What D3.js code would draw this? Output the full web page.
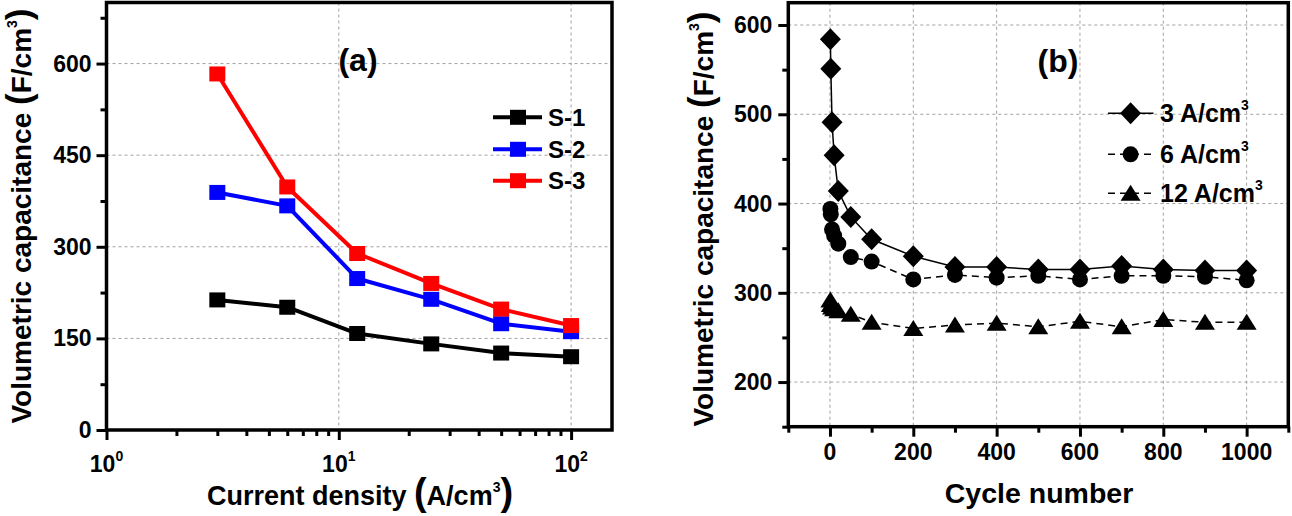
<!DOCTYPE html>
<html><head><meta charset="utf-8">
<script src="https://cdn.jsdelivr.net/npm/d3@7"></script>
<style>
body{margin:0;background:#fff}
svg{display:block}
text{font-family:"Liberation Sans",Arial,sans-serif;font-weight:bold;fill:#000}
</style>
</head><body><svg id="c" width="1292" height="516"></svg>
<script>
// ---------- Panel (a) data ----------
const currentDensity = [3, 6, 12, 25, 50, 100];
const s1 = [213, 201, 158, 141, 126, 120];
const s2 = [389, 367, 248, 214, 174, 161];
const s3 = [583, 398, 289, 240, 198, 171];
const seriesNamesA = ["S-1", "S-2", "S-3"];
const seriesColorsA = ["#000000", "#0000ff", "#ff0000"];
const yTicksA = [0, 150, 300, 450, 600];
const yMinorA = [75, 225, 375, 525, 675];
const xTicksA = [1, 10, 100];
const xTickExpA = ["0", "1", "2"];

// ---------- Panel (b) data ----------
const cycles = [1, 2, 5, 10, 20, 50, 100, 200, 300, 400, 500, 600, 700, 800, 900, 1000];
const cap3 = [584, 551, 491, 454, 414, 385, 360, 341, 329, 329, 326, 326, 330, 326, 325, 325];
const cap6 = [394, 388, 371, 364, 355, 340, 335, 315, 320, 317, 319, 315, 319, 319, 318, 314];
const cap12 = [292, 287, 284, 282, 280, 276, 267, 260, 264, 266, 262, 268, 262, 270, 267, 267];
const seriesNamesB = ["3 A/cm", "6 A/cm", "12 A/cm"];
const xTicksB = [0, 200, 400, 600, 800, 1000];
const xMinorB = [-100, 100, 300, 500, 700, 900, 1100];
const yTicksB = [200, 300, 400, 500, 600];
const yMinorB = [150, 250, 350, 450, 550];

const svg = d3.select("#c");
svg.append("rect").attr("width", 1292).attr("height", 516).attr("fill", "#fff");

const GRID = "#a0a0a0";

function rich(g, x, y, parts, anchor, rotate) {
  const t = g.append("text").attr("text-anchor", anchor || "start");
  if (rotate) t.attr("transform", `translate(${x},${y}) rotate(${rotate})`);
  else t.attr("x", x).attr("y", y);
  let shift = 0;
  parts.forEach(p => {
    const ts = t.append("tspan").text(p.t).attr("font-size", p.fs);
    const want = p.up || 0;
    const dy = -(want - shift);
    if (dy !== 0) ts.attr("dy", dy);
    shift = want;
  });
  return t;
}

function styleAxis(g) {
  g.select(".domain").remove();
  g.selectAll(".tick line").attr("stroke", "#000").attr("stroke-width", 3);
  g.selectAll(".tick text").remove();
}

// ================= Panel (a) =================
const A = {x0: 106.5, x1: 612, y0: 2.5, y1: 430};
const xA = d3.scaleLog().domain([1, 150]).range([A.x0, A.x1]);
const yA = d3.scaleLinear().domain([0, 700]).range([A.y1, A.y0]);
const gA = svg.append("g");

gA.append("g").selectAll("line").data(yTicksA.filter(d => d > 0)).join("line")
  .attr("x1", A.x0).attr("x2", A.x1).attr("y1", d => yA(d)).attr("y2", d => yA(d))
  .attr("stroke", GRID).attr("stroke-width", 1).attr("stroke-dasharray", "3,3");
gA.append("g").selectAll("line").data(xTicksA.filter(d => d > 1)).join("line")
  .attr("x1", d => xA(d)).attr("x2", d => xA(d)).attr("y1", A.y0).attr("y2", A.y1)
  .attr("stroke", GRID).attr("stroke-width", 1).attr("stroke-dasharray", "3,3");

const xMinorA = [];
[1, 10].forEach(dec => { for (let k = 2; k <= 9; k++) xMinorA.push(dec * k); });
gA.append("g").attr("transform", `translate(0,${A.y1})`)
  .call(d3.axisBottom(xA).tickValues(xTicksA).tickSize(10)).call(styleAxis);
gA.append("g").attr("transform", `translate(0,${A.y1})`)
  .call(d3.axisBottom(xA).tickValues(xMinorA).tickSize(6)).call(styleAxis);
gA.append("g").attr("transform", `translate(${A.x0},0)`)
  .call(d3.axisLeft(yA).tickValues(yTicksA).tickSize(10)).call(styleAxis);
gA.append("g").attr("transform", `translate(${A.x0},0)`)
  .call(d3.axisLeft(yA).tickValues(yMinorA).tickSize(6)).call(styleAxis);

yTicksA.forEach(v => {
  gA.append("text").attr("x", A.x0 - 15).attr("y", yA(v)).attr("dy", "0.35em")
    .attr("text-anchor", "end").attr("font-size", 23).text(v);
});
xTicksA.forEach((v, i) => {
  rich(gA, xA(v), 472, [{t: "10", fs: 23}, {t: xTickExpA[i], fs: 14, up: 11}], "middle");
});

const seriesA = [s1, s2, s3];
const lineA = d3.line().x((d, i) => xA(currentDensity[i])).y(d => yA(d));
seriesA.forEach((s, k) => {
  gA.append("path").datum(s).attr("d", lineA).attr("fill", "none")
    .attr("stroke", seriesColorsA[k]).attr("stroke-width", 4).attr("stroke-linejoin", "round");
  gA.append("g").selectAll("rect").data(s).join("rect")
    .attr("x", (d, i) => xA(currentDensity[i]) - 8).attr("y", d => yA(d) - 7.5)
    .attr("width", 16).attr("height", 15).attr("fill", seriesColorsA[k]);
});

const legA = gA.append("g");
const legAy = [117.3, 149.3, 180.7];
seriesNamesA.forEach((n, k) => {
  legA.append("line").attr("x1", 493).attr("x2", 542).attr("y1", legAy[k]).attr("y2", legAy[k])
    .attr("stroke", seriesColorsA[k]).attr("stroke-width", 4);
  legA.append("rect").attr("x", 518 - 8).attr("y", legAy[k] - 7.5).attr("width", 16).attr("height", 15)
    .attr("fill", seriesColorsA[k]);
  legA.append("text").attr("x", 548).attr("y", legAy[k]).attr("dy", "0.36em")
    .attr("font-size", 24).text(n);
});

gA.append("text").attr("x", 358).attr("y", 70.5).attr("text-anchor", "middle")
  .attr("font-size", 32).text("(a)");

gA.append("rect").attr("x", A.x0).attr("y", A.y0).attr("width", A.x1 - A.x0).attr("height", A.y1 - A.y0)
  .attr("fill", "none").attr("stroke", "#000").attr("stroke-width", 3.5);

rich(gA, 360, 505, [
  {t: "Current density ", fs: 27}, {t: "(", fs: 38}, {t: "A/cm", fs: 27},
  {t: "3", fs: 14, up: 13}, {t: ")", fs: 38}
], "middle");
rich(gA, 31, 216, [
  {t: "Volumetric capacitance ", fs: 28}, {t: "(", fs: 35}, {t: "F/cm", fs: 28},
  {t: "3", fs: 14, up: 14}, {t: ")", fs: 35}
], "middle", -90);

// ================= Panel (b) =================
const B = {x0: 788.3, x1: 1288.3, y0: 2.7, y1: 426.7};
const xB = d3.scaleLinear().domain([-100, 1100]).range([B.x0, B.x1]);
const yB = d3.scaleLinear().domain([150, 625]).range([B.y1, B.y0]);
const gB = svg.append("g");

gB.append("g").selectAll("line").data(yTicksB).join("line")
  .attr("x1", B.x0).attr("x2", B.x1).attr("y1", d => yB(d)).attr("y2", d => yB(d))
  .attr("stroke", GRID).attr("stroke-width", 1).attr("stroke-dasharray", "3,3");
gB.append("g").selectAll("line").data(xTicksB).join("line")
  .attr("x1", d => xB(d)).attr("x2", d => xB(d)).attr("y1", B.y0).attr("y2", B.y1)
  .attr("stroke", GRID).attr("stroke-width", 1).attr("stroke-dasharray", "3,3");

gB.append("g").attr("transform", `translate(0,${B.y1})`)
  .call(d3.axisBottom(xB).tickValues(xTicksB).tickSize(10)).call(styleAxis);
gB.append("g").attr("transform", `translate(0,${B.y1})`)
  .call(d3.axisBottom(xB).tickValues(xMinorB).tickSize(6)).call(styleAxis);
gB.append("g").attr("transform", `translate(${B.x0},0)`)
  .call(d3.axisLeft(yB).tickValues(yTicksB).tickSize(10)).call(styleAxis);
gB.append("g").attr("transform", `translate(${B.x0},0)`)
  .call(d3.axisLeft(yB).tickValues(yMinorB).tickSize(6)).call(styleAxis);

yTicksB.forEach(v => {
  gB.append("text").attr("x", B.x0 - 16).attr("y", yB(v)).attr("dy", "0.35em")
    .attr("text-anchor", "end").attr("font-size", 23).text(v);
});
xTicksB.forEach(v => {
  gB.append("text").attr("x", xB(v)).attr("y", 460).attr("text-anchor", "middle")
    .attr("font-size", 23).text(v);
});

const diamond = "M0,-11L10.5,0L0,11L-10.5,0Z";
const triangle = "M0,-8.5L10,7.5L-10,7.5Z";
const lineB = d3.line().x((d, i) => xB(cycles[i])).y(d => yB(d));

function markers(g, data, kind) {
  const sel = g.append("g").selectAll("path").data(data).join("path")
    .attr("transform", (d, i) => `translate(${xB(cycles[i])},${yB(d)})`).attr("fill", "#000");
  if (kind === "diamond") sel.attr("d", diamond);
  else if (kind === "triangle") sel.attr("d", triangle);
  else sel.attr("d", d3.symbol(d3.symbolCircle, Math.PI * 64)());
}

gB.append("path").datum(cap3).attr("d", lineB).attr("fill", "none").attr("stroke", "#000").attr("stroke-width", 1.5);
markers(gB, cap3, "diamond");
gB.append("path").datum(cap6).attr("d", lineB).attr("fill", "none").attr("stroke", "#000").attr("stroke-width", 1.5).attr("stroke-dasharray", "7,5");
markers(gB, cap6, "circle");
gB.append("path").datum(cap12).attr("d", lineB).attr("fill", "none").attr("stroke", "#000").attr("stroke-width", 1.5).attr("stroke-dasharray", "7,5");
markers(gB, cap12, "triangle");

const legBy = [113.3, 154.3, 193.3];
const kinds = ["diamond", "circle", "triangle"];
seriesNamesB.forEach((n, k) => {
  const ln = gB.append("line").attr("x1", 1108).attr("x2", 1153.5).attr("y1", legBy[k]).attr("y2", legBy[k])
    .attr("stroke", "#000").attr("stroke-width", 1.5);
  if (k > 0) ln.attr("stroke-dasharray", "7,5");
  const m = gB.append("path").attr("transform", `translate(1130.6,${legBy[k]})`).attr("fill", "#000");
  if (kinds[k] === "diamond") m.attr("d", diamond);
  else if (kinds[k] === "triangle") m.attr("d", triangle);
  else m.attr("d", d3.symbol(d3.symbolCircle, Math.PI * 64)());
  rich(gB, 1160, legBy[k] + 9, [{t: n, fs: 25}, {t: "3", fs: 14, up: 12}], "start");
});

gB.append("text").attr("x", 1058).attr("y", 71.5).attr("text-anchor", "middle")
  .attr("font-size", 32).text("(b)");

gB.append("rect").attr("x", B.x0).attr("y", B.y0).attr("width", B.x1 - B.x0).attr("height", B.y1 - B.y0)
  .attr("fill", "none").attr("stroke", "#000").attr("stroke-width", 3.5);

gB.append("text").attr("x", 1039).attr("y", 503).attr("text-anchor", "middle")
  .attr("font-size", 28.5).text("Cycle number");
rich(gB, 713, 219, [
  {t: "Volumetric capacitance ", fs: 28}, {t: "(", fs: 35}, {t: "F/cm", fs: 28},
  {t: "3", fs: 14, up: 14}, {t: ")", fs: 35}
], "middle", -90);
</script>
</body></html>
